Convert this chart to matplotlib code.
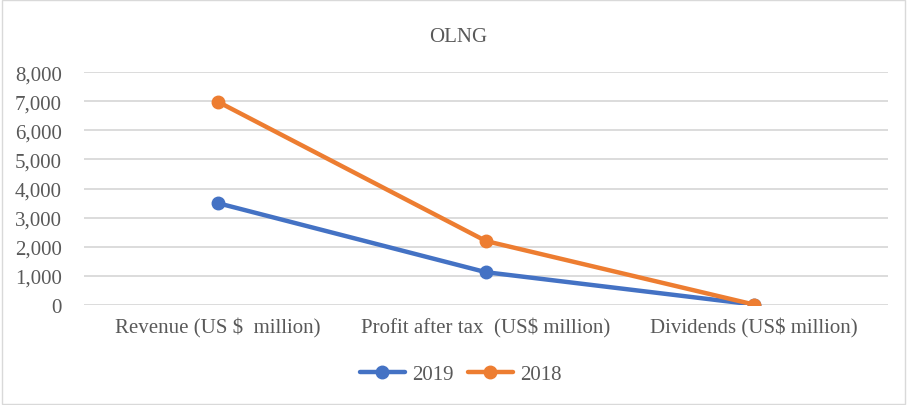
import matplotlib
matplotlib.use("Agg")
import matplotlib.pyplot as plt
from matplotlib.patches import Rectangle

categories = ["Revenue (US $  million)", "Profit after tax  (US$ million)", "Dividends (US$ million)"]
series_2019 = [3500, 1130, 20]
series_2018 = [6980, 2200, 20]
yticks = [0, 1000, 2000, 3000, 4000, 5000, 6000, 7000, 8000]

plt.rcParams['font.family'] = ['Liberation Serif', 'DejaVu Serif']
txt = '#595959'

fig = plt.figure(figsize=(9.07, 4.06), dpi=100)
fig.patch.set_facecolor('white')
fig.add_artist(Rectangle((0.002, 0.003), 0.996, 0.994, transform=fig.transFigure,
                         fill=False, edgecolor='#d9d9d9', linewidth=1))
ax = fig.add_axes([0.0926, 0.246, 0.8864, 0.574])
x = list(range(len(categories)))
ax.plot(x, series_2019, color='#4472C4', lw=3.2, marker='o', ms=9, label='2019', solid_capstyle='round')
ax.plot(x, series_2018, color='#ED7D31', lw=3.2, marker='o', ms=9, label='2018', solid_capstyle='round')
ax.set_xlim(-0.5, 2.5)
ax.set_ylim(0, 8000)
ax.set_yticks(yticks)
ax.set_yticklabels([f"{v:,}" for v in yticks])
ax.set_xticks(x)
ax.set_xticklabels(categories)
ax.grid(axis='y', color='#d9d9d9', lw=1.3)
ax.set_axisbelow(True)
for s in ax.spines.values():
    s.set_visible(False)
ax.tick_params(length=0, labelsize=15, colors=txt, pad=9)
ax.tick_params(axis='y', pad=16)
fig.text(0.505, 0.908, "OLNG", ha='center', va='center', fontsize=15, color=txt)
leg = fig.legend(loc='center', bbox_to_anchor=(0.508, 0.075), ncol=2, frameon=False,
                 fontsize=15, labelcolor=txt, handlelength=2.15, columnspacing=0.7, handletextpad=0.35)
fig.savefig("out.png", dpi=100)
